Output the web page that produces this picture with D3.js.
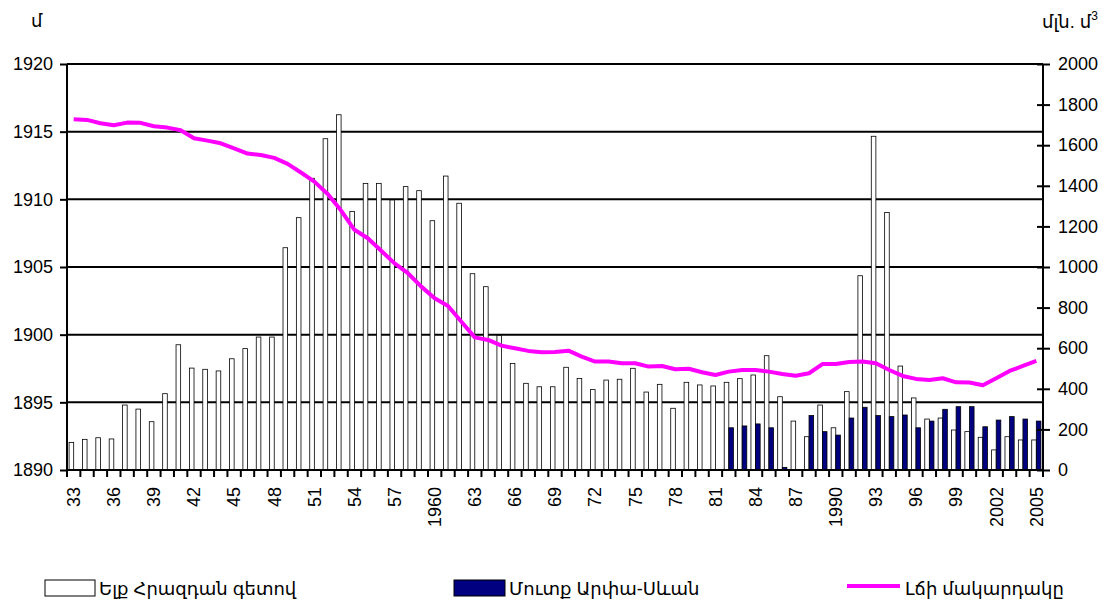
<!DOCTYPE html>
<html>
<head>
<meta charset="utf-8">
<title>Սևանա լիճ</title>
<script src="https://d3js.org/d3.v7.min.js"></script>
<style>
  body { margin: 0; background: #fff; }
  text { font-family: "Liberation Sans", Arial, "DejaVu Sans", sans-serif; fill: #000; }
</style>
</head>
<body>
<script>
// categories
var years = d3.range(1933, 2006);
var tickLabels = ["33","36","39","42","45","48","51","54","57","1960","63","66","69",
                  "72","75","78","81","84","87","1990","93","96","99","2002","2005"];

// outflow through Hrazdan river, mln m3
var outflow = [136,151,159,153,320,300,238,376,617,502,
               496,488,548,598,655,655,1095,1243,1437,1632,
               1750,1274,1412,1412,1330,1396,1376,1228,1448,1314,
               967,903,663,525,427,410,410,506,451,396,
               443,447,501,384,422,304,432,419,414,432,
               450,468,563,361,241,164,320,208,386,957,
               1644,1268,512,355,251,256,197,189,161,99,
               164,148,148];

// inflow Arpa-Sevan tunnel, mln m3 (starts 1982)
var inflow = [null,null,null,null,null,null,null,null,null,null,
              null,null,null,null,null,null,null,null,null,null,
              null,null,null,null,null,null,null,null,null,null,
              null,null,null,null,null,null,null,null,null,null,
              null,null,null,null,null,null,null,null,null,208,
              217,227,208,13,0,268,189,172,256,309,
              268,263,271,208,241,299,312,312,213,246,
              263,251,241];

// lake level, m
var level = [1915.92,1915.87,1915.62,1915.47,1915.67,1915.65,1915.40,1915.30,1915.10,1914.51,
             1914.34,1914.14,1913.77,1913.38,1913.28,1913.06,1912.62,1911.98,1911.31,1910.40,
             1909.17,1907.75,1907.12,1906.20,1905.27,1904.54,1903.55,1902.69,1902.12,1900.96,
             1899.80,1899.61,1899.19,1898.99,1898.80,1898.70,1898.72,1898.82,1898.38,1898.01,
             1898.01,1897.89,1897.89,1897.64,1897.68,1897.44,1897.48,1897.22,1897.02,1897.27,
             1897.39,1897.39,1897.27,1897.10,1896.97,1897.15,1897.83,1897.83,1897.98,1898.01,
             1897.89,1897.39,1896.95,1896.73,1896.65,1896.78,1896.48,1896.46,1896.26,1896.78,
             1897.32,1897.69,1898.06];

var W = 1112, H = 606;
var m = {top: 64, right: 69, bottom: 136, left: 67};
var w = W - m.left - m.right, h = H - m.top - m.bottom;

var svg = d3.select("body").append("svg").attr("width", W).attr("height", H);
var g = svg.append("g").attr("transform", "translate(" + m.left + "," + m.top + ")");

var x = d3.scaleBand().domain(years).range([0, w]).padding(0);
var yL = d3.scaleLinear().domain([1890, 1920]).range([h, 0]);
var yR = d3.scaleLinear().domain([0, 2000]).range([h, 0]);
var barW = 4.6;

// gridlines
g.selectAll("line.grid")
  .data(yL.ticks(6))
  .enter().append("line")
  .attr("x1", 0).attr("x2", w)
  .attr("y1", function(d) { return yL(d); })
  .attr("y2", function(d) { return yL(d); })
  .attr("stroke", "#000").attr("stroke-width", 2);

// outflow bars
g.selectAll("rect.out")
  .data(years)
  .enter().append("rect")
  .attr("x", function(d) { return x(d) + x.bandwidth() / 2 - barW; })
  .attr("y", function(d, i) { return yR(outflow[i]); })
  .attr("width", barW)
  .attr("height", function(d, i) { return h - yR(outflow[i]); })
  .attr("fill", "#fff").attr("stroke", "#000").attr("stroke-width", 0.8);

// inflow bars
g.selectAll("rect.in")
  .data(years.filter(function(d, i) { return inflow[i] != null && inflow[i] > 0; }))
  .enter().append("rect")
  .attr("x", function(d) { return x(d) + x.bandwidth() / 2; })
  .attr("y", function(d) { return yR(inflow[years.indexOf(d)]); })
  .attr("width", barW)
  .attr("height", function(d) { return h - yR(inflow[years.indexOf(d)]); })
  .attr("fill", "#000080").attr("stroke", "#000").attr("stroke-width", 0.8);

// lake level line
var line = d3.line()
  .x(function(d, i) { return x(years[i]) + x.bandwidth() / 2; })
  .y(function(d) { return yL(d); });
g.append("path").datum(level)
  .attr("d", line)
  .attr("fill", "none").attr("stroke", "#ff00ff")
  .attr("stroke-width", 4).attr("stroke-linejoin", "round");

// left axis
var axL = g.append("g").call(d3.axisLeft(yL).ticks(6).tickSize(7).tickFormat(d3.format("d")));
axL.select(".domain").remove();
axL.selectAll("line").attr("stroke", "#000").attr("stroke-width", 2);
axL.selectAll("text").attr("font-size", 18).attr("x", -14).style("font-family", null);
g.append("line").attr("x1", 0).attr("x2", 0).attr("y1", 0).attr("y2", h)
  .attr("stroke", "#000").attr("stroke-width", 2);

// right axis
var axR = g.append("g").attr("transform", "translate(" + w + ",0)")
  .call(d3.axisRight(yR).ticks(10).tickSize(7).tickFormat(d3.format("d")));
axR.select(".domain").remove();
axR.selectAll("line").attr("x1", -6).attr("stroke", "#000").attr("stroke-width", 2);
axR.selectAll("text").attr("font-size", 18).attr("x", 15).style("font-family", null);
g.append("line").attr("x1", w).attr("x2", w).attr("y1", 0).attr("y2", h)
  .attr("stroke", "#000").attr("stroke-width", 2);

// x axis: ticks at category boundaries
g.selectAll("line.xt")
  .data(years.concat([2006]))
  .enter().append("line")
  .attr("x1", function(d, i) { return i * x.bandwidth(); })
  .attr("x2", function(d, i) { return i * x.bandwidth(); })
  .attr("y1", h).attr("y2", h + 7)
  .attr("stroke", "#000").attr("stroke-width", 2);
g.append("line").attr("x1", 0).attr("x2", w).attr("y1", h).attr("y2", h)
  .attr("stroke", "#000").attr("stroke-width", 2);

g.selectAll("text.xl")
  .data(tickLabels)
  .enter().append("text")
  .attr("transform", function(d, i) {
    return "translate(" + (x(years[i * 3]) + x.bandwidth() / 2) + "," + (h + 17) + ") rotate(-90)";
  })
  .attr("text-anchor", "end").attr("dy", "0.35em")
  .attr("font-size", 18)
  .text(function(d) { return d; });

// axis titles
svg.append("text").attr("x", 31).attr("y", 27).attr("font-size", 18).text("մ");
var tr = svg.append("text").attr("x", 1042).attr("y", 28).attr("font-size", 18);
tr.append("tspan").text("մլն. մ");
tr.append("tspan").attr("font-size", 12).attr("dy", -8).text("3");

// legend
var lg = svg.append("g");
lg.append("rect").attr("x", 45).attr("y", 580).attr("width", 50).attr("height", 16)
  .attr("fill", "#fff").attr("stroke", "#000").attr("stroke-width", 1);
lg.append("text").attr("x", 99).attr("y", 595).attr("font-size", 18).text("Ելք Հրազդան գետով");
lg.append("rect").attr("x", 454).attr("y", 580).attr("width", 51).attr("height", 16)
  .attr("fill", "#000080").attr("stroke", "#000").attr("stroke-width", 1);
lg.append("text").attr("x", 509).attr("y", 595).attr("font-size", 18).text("Մուտք Արփա-Սևան");
lg.append("line").attr("x1", 847).attr("x2", 900).attr("y1", 586).attr("y2", 586)
  .attr("stroke", "#ff00ff").attr("stroke-width", 4);
lg.append("text").attr("x", 905).attr("y", 595).attr("font-size", 18).text("Լճի մակարդակը");
</script>
</body>
</html>
